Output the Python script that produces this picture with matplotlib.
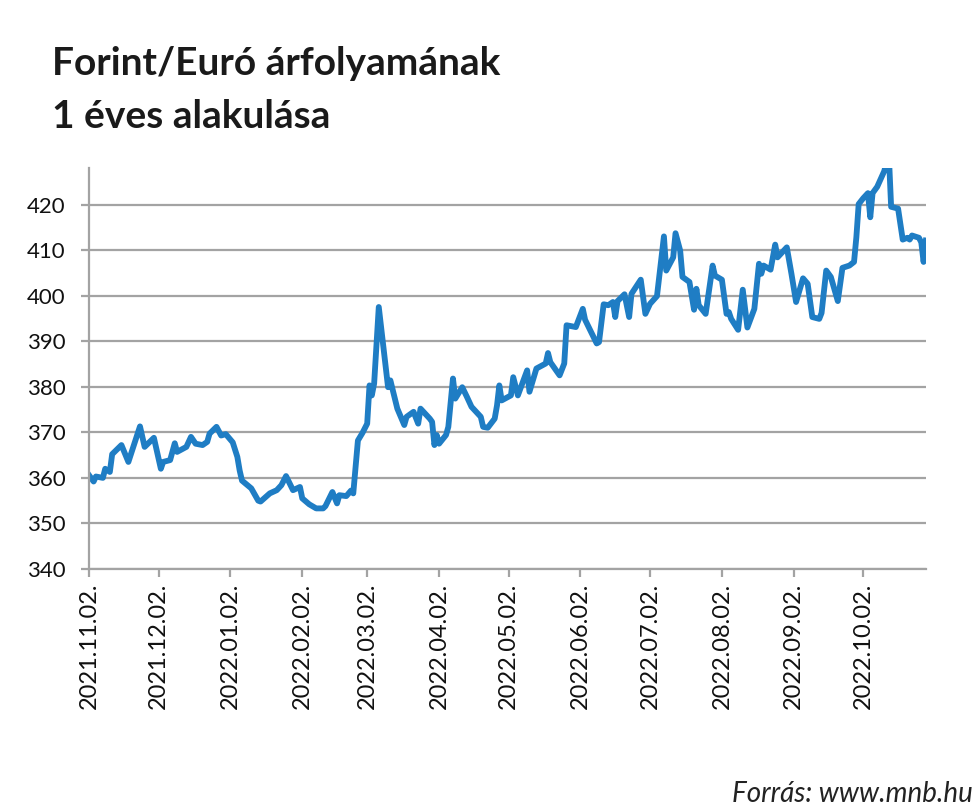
import numpy as np
import matplotlib
matplotlib.use("Agg")
import matplotlib.pyplot as plt
import pandas as pd

# EUR/HUF
dates = ["2021-11-02", "2021-11-04", "2021-11-05", "2021-11-08", "2021-11-09", "2021-11-11",
         "2021-11-12", "2021-11-16", "2021-11-19", "2021-11-24", "2021-11-26", "2021-11-30",
         "2021-12-03", "2021-12-04", "2021-12-07", "2021-12-09", "2021-12-10", "2021-12-14",
         "2021-12-16", "2021-12-18", "2021-12-21", "2021-12-23", "2021-12-24", "2021-12-27",
         "2021-12-29", "2021-12-31",
         "2022-01-03", "2022-01-05", "2022-01-06", "2022-01-07", "2022-01-11", "2022-01-14",
         "2022-01-15", "2022-01-19", "2022-01-22", "2022-01-24", "2022-01-26", "2022-01-29",
         "2022-02-01", "2022-02-02", "2022-02-05", "2022-02-08", "2022-02-11", "2022-02-12",
         "2022-02-15", "2022-02-17", "2022-02-18", "2022-02-21", "2022-02-23", "2022-02-24",
         "2022-02-26", "2022-02-28", "2022-03-02", "2022-03-03", "2022-03-04", "2022-03-05",
         "2022-03-07", "2022-03-10", "2022-03-11", "2022-03-12", "2022-03-15", "2022-03-18",
         "2022-03-19", "2022-03-22", "2022-03-24", "2022-03-25", "2022-03-29", "2022-03-30",
         "2022-03-31", "2022-04-01", "2022-04-02", "2022-04-05", "2022-04-06", "2022-04-08",
         "2022-04-09", "2022-04-12", "2022-04-14", "2022-04-16", "2022-04-20", "2022-04-21",
         "2022-04-23", "2022-04-26", "2022-04-27", "2022-04-28", "2022-04-29",
         "2022-05-03", "2022-05-04", "2022-05-06", "2022-05-10", "2022-05-11", "2022-05-14",
         "2022-05-18", "2022-05-19", "2022-05-20", "2022-05-24", "2022-05-26", "2022-05-27",
         "2022-05-31", "2022-06-03", "2022-06-04", "2022-06-09", "2022-06-10", "2022-06-12",
         "2022-06-14", "2022-06-16", "2022-06-17", "2022-06-18", "2022-06-21", "2022-06-23",
         "2022-06-24", "2022-06-28", "2022-06-30", "2022-07-02", "2022-07-05", "2022-07-08",
         "2022-07-09", "2022-07-12", "2022-07-13", "2022-07-15", "2022-07-16", "2022-07-19",
         "2022-07-21", "2022-07-22", "2022-07-23", "2022-07-26", "2022-07-29", "2022-07-30",
         "2022-08-02", "2022-08-04", "2022-08-05", "2022-08-06", "2022-08-09", "2022-08-11",
         "2022-08-13", "2022-08-16", "2022-08-18", "2022-08-19", "2022-08-20", "2022-08-23",
         "2022-08-25", "2022-08-26", "2022-08-30", "2022-09-01", "2022-09-03", "2022-09-06",
         "2022-09-08", "2022-09-10", "2022-09-13", "2022-09-14", "2022-09-16", "2022-09-18",
         "2022-09-21", "2022-09-23", "2022-09-26", "2022-09-28", "2022-09-29", "2022-09-30",
         "2022-10-02", "2022-10-04", "2022-10-05", "2022-10-06", "2022-10-08", "2022-10-11",
         "2022-10-13", "2022-10-14", "2022-10-17", "2022-10-19", "2022-10-21", "2022-10-22",
         "2022-10-23", "2022-10-26", "2022-10-27", "2022-10-28", "2022-10-29"]

rates = [360.6, 359.2, 360.3, 360.0, 362.0, 361.3,
         365.2, 367.2, 363.5, 371.3, 366.8, 368.8,
         362.0, 363.5, 363.9, 367.6, 365.7, 366.8,
         369.0, 367.5, 367.2, 367.9, 369.7, 371.2,
         369.3, 369.6,
         367.8, 364.6, 361.6, 359.4, 357.7, 355.0,
         354.8, 356.6, 357.3, 358.4, 360.4, 357.3,
         358.0, 355.5, 354.2, 353.3, 353.3, 353.8,
         356.9, 354.4, 356.2, 356.0, 357.2, 356.6,
         368.2, 369.9, 371.9, 380.3, 378.1, 380.7,
         397.5, 384.3, 379.9, 381.4, 375.2, 371.6,
         373.4, 374.5, 371.9, 375.2, 373.0, 372.3,
         367.2, 369.4, 367.5, 369.4, 371.2, 381.8,
         377.4, 379.9, 377.8, 375.6, 373.4, 371.2,
         371.0, 373.0, 375.9, 380.3, 377.0,
         378.1, 382.1, 378.1, 383.6, 378.9, 384.0,
         385.1, 387.4, 385.4, 382.5, 385.1, 393.5,
         393.1, 397.1, 394.7, 389.5, 389.8, 398.1,
         397.9, 398.6, 395.3, 398.8, 400.3, 395.3,
         400.4, 403.5, 396.0, 398.2, 399.9, 413.0,
         405.5, 408.4, 413.7, 409.9, 404.1, 403.0,
         396.9, 401.5, 397.9, 396.0, 406.6, 404.4,
         403.5, 396.0, 396.4, 394.9, 392.5, 401.3,
         393.0, 397.1, 407.0, 404.8, 406.6, 405.7,
         411.2, 408.4, 410.6, 404.8, 398.6, 403.8,
         402.6, 395.3, 394.9, 396.2, 405.5, 404.1,
         398.8, 406.1, 406.6, 407.4, 412.8, 420.1,
         421.4, 422.5, 417.2, 422.5, 423.9, 427.3,
         431.0, 419.5, 419.1, 412.3, 412.7, 412.3,
         413.2, 412.7, 411.7, 407.4, 412.1]

tick_dates = ["2021-11-02", "2021-12-02", "2022-01-02", "2022-02-02", "2022-03-02", "2022-04-02",
              "2022-05-02", "2022-06-02", "2022-07-02", "2022-08-02", "2022-09-02", "2022-10-02"]
tick_labels = ["2021.11.02.", "2021.12.02.", "2022.01.02.", "2022.02.02.", "2022.03.02.",
               "2022.04.02.", "2022.05.02.", "2022.06.02.", "2022.07.02.", "2022.08.02.",
               "2022.09.02.", "2022.10.02."]
y_ticks = [340, 350, 360, 370, 380, 390, 400, 410, 420]

plt.rcParams['font.family'] = ['Lato', 'DejaVu Sans']

x = pd.to_datetime(dates)
grey = "#a3a3a3"

fig = plt.figure(figsize=(9.8, 8.08), dpi=100)
ax = fig.add_axes([0.0908, 0.2958, 0.854, 0.4962])

ax.plot(x, rates, color="#1f7dc4", linewidth=4.2, solid_joinstyle="round")

ax.set_ylim(340, 428)
ax.set_xlim(x[0], x[-1])
ax.set_yticks(y_ticks)
ax.set_xticks(pd.to_datetime(tick_dates))
ax.set_xticklabels(tick_labels, rotation=90)

ax.grid(axis="y", color=grey, linewidth=1.6)
ax.set_axisbelow(True)
for s in ["top", "right"]:
    ax.spines[s].set_visible(False)
for s in ["left", "bottom"]:
    ax.spines[s].set_color(grey)
    ax.spines[s].set_linewidth(1.6)
ax.tick_params(axis="both", colors=grey, width=1.6, length=6, labelcolor="#111111")
ax.tick_params(axis="x", pad=4, labelsize=17)
ax.tick_params(axis="y", pad=11, labelsize=16)

fig.text(0.053, 0.907, "Forint/Euró árfolyamának", fontsize=28, fontweight="bold",
         color="#1a1a1a", va="baseline")
fig.text(0.053, 0.841, "1 éves alakulása", fontsize=28, fontweight="bold",
         color="#1a1a1a", va="baseline")
fig.text(0.993, 0.008, "Forrás: www.mnb.hu", fontsize=20, style="italic",
         color="#222222", ha="right", va="baseline")

fig.savefig("out.png", dpi=100)
